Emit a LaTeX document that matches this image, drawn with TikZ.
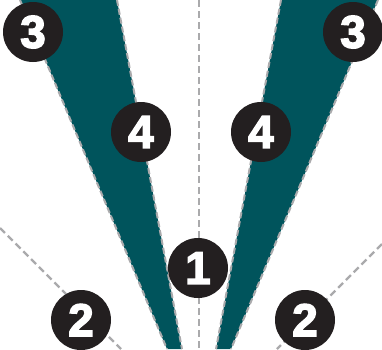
\documentclass[tikz,border=0pt]{standalone}
\usepackage{fontspec}
\newfontfamily\numfont[BoldFeatures={FakeBold=3}]{Liberation Sans}
\definecolor{wedgecol}{RGB}{0,84,92}
\definecolor{badgecol}{RGB}{35,31,32}
\definecolor{guidecol}{RGB}{170,170,172}
\tikzset{
  guideline/.style={guidecol, line width=2.4pt, dash pattern=on 7pt off 4pt},
  edgeline/.style={guidecol, line width=2pt, dash pattern=on 6pt off 3pt},
  marker/.style={circle, fill=badgecol, minimum size=60pt, inner sep=0pt, text=white,
    font=\numfont\bfseries\fontsize{46}{46}\selectfont}
}
\begin{document}
\begin{tikzpicture}[x=1pt,y=-1pt]
\useasboundingbox (0,0) rectangle (382,349);
% guide lines
\draw[guideline] (199,0) -- (199,349);
\draw[guideline] (0,228) -- (121,349);
\draw[guideline] (382,244) -- (277,349);
% the two wedges
\fill[wedgecol] (20,0) -- (117,0) -- (182,349) -- (167,349) -- cycle;
\fill[wedgecol] (281,0) -- (378,0) -- (231,349) -- (216,349) -- cycle;
\foreach \a/\b in {20/167, 117/182, 281/216, 378/231}
{
	\draw[edgeline] (\a,0) -- (\b,349);
}
% numbered markers
\foreach \nm/\x/\y/\d in {threeL/33/32/3, threeR/353/32/3, fourL/141/132/4, fourR/261/132/4, one/198/268/1, twoL/81/320/2, twoR/305/320/2}
{
	\node[marker] (\nm) at (\x,\y) {\d};
}
\end{tikzpicture}
\end{document}
